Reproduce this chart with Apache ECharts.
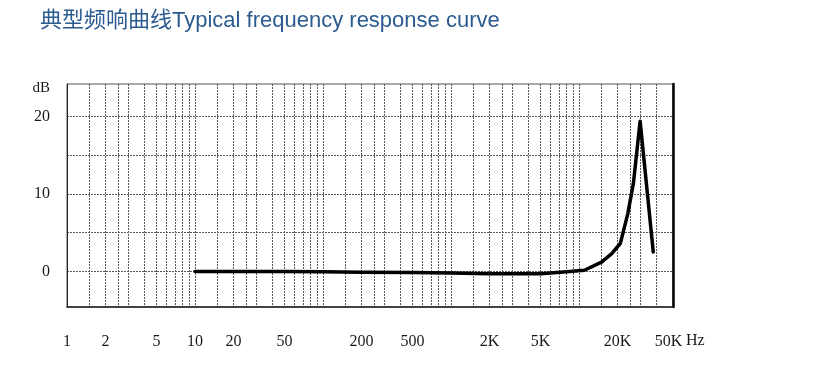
<!DOCTYPE html>
<html>
<head>
<meta charset="utf-8">
<script src="https://cdn.jsdelivr.net/npm/echarts@6/dist/echarts.min.js"></script>
<style>
  html, body { margin: 0; padding: 0; background: #fff; }
  #chart { width: 825px; height: 370px; }
</style>
</head>
<body>
<div id="chart"></div>
<script>
// ---- Data ----
const titleText = '典型频响曲线Typical frequency response curve';
const xUnitText = 'Hz';
const yUnitText = 'dB';

// Frequency response curve (Hz, dB)
const freqHz = [10, 20, 50, 100, 200, 500, 1000, 2000, 5000, 8000, 11000, 15000, 18000, 21000, 24000, 26600, 30000, 38000];
const levelDb = [0, 0, 0, -0.05, -0.1, -0.15, -0.2, -0.3, -0.3, -0.05, 0.15, 1.2, 2.3, 3.6, 7.4, 11.4, 19.4, 2.5];

// Axis tick labels
const xLabelValues = [1, 2, 5, 10, 20, 50, 200, 500, 2000, 5000, 20000, 50000];
const xLabelTexts = ['1', '2', '5', '10', '20', '50', '200', '500', '2K', '5K', '20K', '50K'];
const yLabelValues = [0, 10, 20];

// Grid lines of the log paper
const xGridValues = [
  1.5, 2, 2.5, 3, 4, 5, 6, 7, 8, 9, 10,
  15, 20, 25, 30, 40, 50, 60, 70, 80, 90, 100,
  150, 200, 250, 300, 400, 500, 600, 700, 800, 900, 1000,
  1500, 2000, 2500, 3000, 4000, 5000, 6000, 7000, 8000, 9000, 10000,
  15000, 20000, 25000, 30000, 40000
];
const yGridValues = [0, 5, 10, 15, 20];

// ---- Chart ----
const chart = echarts.init(document.getElementById('chart'), null, { renderer: 'canvas' });

function xLabel(v) {
  for (let i = 0; i < xLabelValues.length; i++) {
    if (Math.abs(v - xLabelValues[i]) / xLabelValues[i] < 1e-6) return xLabelTexts[i];
  }
  return '';
}

const serif = 'Liberation Serif, Times New Roman, serif';
const textColor = '#1a1a1a';
const dotted = { color: '#5a5a5a', width: 1, type: [2, 1] };

chart.setOption({
  animation: false,
  backgroundColor: '#ffffff',
  title: [
    {
      text: titleText,
      left: 40,
      top: 10,
      padding: 0,
      textStyle: {
        fontFamily: 'Liberation Sans, Arial, Noto Sans CJK SC, sans-serif',
        fontSize: 22,
        fontWeight: 'normal',
        color: '#2b5b8f'
      }
    },
    {
      text: xUnitText,
      left: 686,
      top: 333,
      padding: 0,
      textStyle: { fontFamily: serif, fontSize: 16, fontWeight: 'normal', color: textColor }
    }
  ],
  grid: {
    left: 67, right: 152, top: 84, bottom: 63,
    show: true, borderColor: '#555', borderWidth: 1
  },
  xAxis: {
    type: 'log',
    logBase: 10,
    min: 1,
    max: 54200,
    axisLine: { show: true, onZero: false, lineStyle: { color: '#222', width: 1.5 } },
    axisTick: { show: false, customValues: xGridValues },
    minorTick: { show: false },
    splitLine: { show: true, lineStyle: dotted },
    axisLabel: {
      customValues: xLabelValues,
      formatter: xLabel,
      showMinLabel: true,
      showMaxLabel: true,
      margin: 27,
      fontFamily: serif,
      fontSize: 16,
      color: textColor
    }
  },
  yAxis: [
    {
      type: 'value',
      min: -4.6,
      max: 24.2,
      name: yUnitText,
      nameLocation: 'end',
      nameGap: -4,
      nameTextStyle: {
        fontFamily: serif, fontSize: 15, color: textColor,
        align: 'right', verticalAlign: 'middle', padding: [0, 17, 0, 0]
      },
      axisLine: { show: true, onZero: false, lineStyle: { color: '#222', width: 1 } },
      axisTick: { show: false, customValues: yGridValues },
      splitLine: { show: true, lineStyle: dotted },
      axisLabel: {
        customValues: yLabelValues,
        margin: 17,
        fontFamily: serif,
        fontSize: 16,
        color: textColor
      }
    },
    {
      type: 'value',
      min: -4.6,
      max: 24.2,
      position: 'right',
      axisLine: { show: true, onZero: false, lineStyle: { color: '#000', width: 2.5 } },
      axisTick: { show: false },
      axisLabel: { show: false },
      splitLine: { show: false }
    }
  ],
  series: [
    {
      type: 'line',
      xAxisIndex: 0,
      yAxisIndex: 0,
      data: freqHz.map((f, i) => [f, levelDb[i]]),
      showSymbol: false,
      smooth: false,
      lineStyle: { color: '#000', width: 3.5, join: 'round', cap: 'round' },
      z: 10
    }
  ]
});
</script>
</body>
</html>
